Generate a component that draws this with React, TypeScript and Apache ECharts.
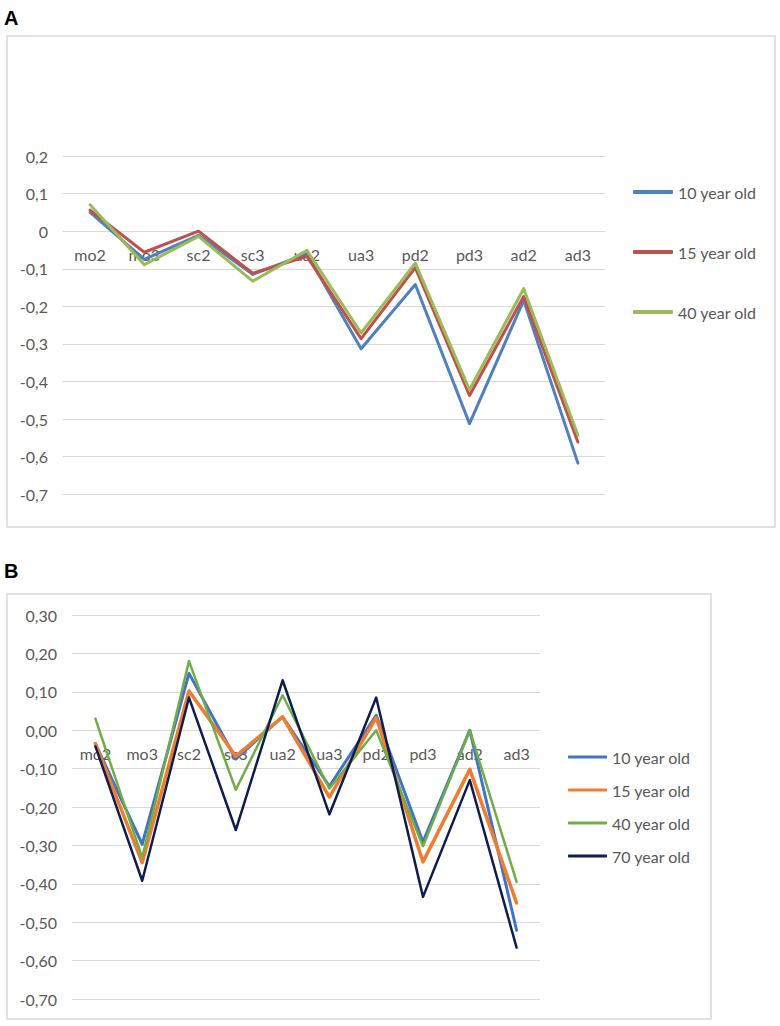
import React, { useEffect, useRef } from "react";
import * as echarts from "echarts";

const categories = ["mo2", "mo3", "sc2", "sc3", "ua2", "ua3", "pd2", "pd3", "ad2", "ad3"];

// Panel A
const seriesNamesA = ["10 year old", "15 year old", "40 year old"];
const a10 = [0.05, -0.075, -0.011, -0.115, -0.06, -0.313, -0.142, -0.512, -0.184, -0.617];
const a15 = [0.056, -0.056, 0.0, -0.112, -0.067, -0.286, -0.097, -0.437, -0.174, -0.561];
const a40 = [0.07, -0.089, -0.014, -0.133, -0.051, -0.271, -0.085, -0.422, -0.153, -0.543];

// Panel B
const seriesNamesB = ["10 year old", "15 year old", "40 year old", "70 year old"];
const b10 = [-0.035, -0.297, 0.148, -0.075, 0.035, -0.146, 0.039, -0.291, 0.0, -0.521];
const b15 = [-0.035, -0.345, 0.102, -0.068, 0.035, -0.174, 0.033, -0.343, -0.102, -0.45];
const b40 = [0.03, -0.332, 0.18, -0.155, 0.091, -0.152, 0.0, -0.302, 0.0, -0.395];
const b70 = [-0.042, -0.392, 0.085, -0.26, 0.13, -0.219, 0.085, -0.434, -0.13, -0.566];

const FONT = "Lato";
const TXT = "#595959";
const GRID = "#D9D9D9";

const fmtA = (v: number) => (Math.abs(v) < 1e-9 ? "0" : v.toFixed(1).replace(".", ","));
const fmtB = (v: number) => (Math.abs(v) < 1e-9 ? 0 : v).toFixed(2).replace(".", ",");

function makeLine(name: string, data: number[], color: string, width: number) {
  return {
    name,
    type: "line",
    data,
    symbol: "none",
    showSymbol: false,
    lineStyle: { color, width, cap: "round", join: "round" },
    itemStyle: { color },
    emphasis: { disabled: true },
  };
}

// category axis is placed on the zero line of the value axis (derived from grid height and range)
function baseAxes(min: number, max: number, gridHeight: number, fmt: (v: number) => string) {
  const zeroOffset = -(gridHeight * (0 - min)) / (max - min);
  return {
    xAxis: {
      type: "category",
      data: categories,
      boundaryGap: true,
      position: "bottom",
      offset: zeroOffset,
      axisLine: { show: true, onZero: false, lineStyle: { color: GRID, width: 1 } },
      axisTick: { show: false },
      axisLabel: { color: TXT, fontFamily: FONT, fontSize: 16, margin: 15, interval: 0 },
      splitLine: { show: false },
      z: 0,
    },
    yAxis: {
      type: "value",
      min,
      max,
      interval: 0.1,
      axisLine: { show: false },
      axisTick: { show: false },
      axisLabel: { color: TXT, fontFamily: FONT, fontSize: 16, margin: 15, formatter: fmt },
      splitLine: { show: true, lineStyle: { color: GRID, width: 1 } },
    },
  };
}

function ChartA() {
  const ref = useRef<HTMLDivElement>(null);
  useEffect(() => {
    const chart = echarts.init(ref.current!, undefined, { renderer: "svg" });
    const colors = ["#4F81BD", "#C0504D", "#9BBB59"];
    const H = 545;
    const top = 156;
    const bottom = H - 494.3;
    chart.setOption({
      animation: false,
      grid: { left: 63, right: 175, top, bottom },
      ...baseAxes(-0.7, 0.2, H - top - bottom, fmtA),
      legend: {
        orient: "vertical",
        left: 633,
        top: 182,
        padding: 0,
        icon: "roundRect",
        itemWidth: 40,
        itemHeight: 4,
        itemGap: 40,
        selectedMode: false,
        textStyle: { color: TXT, fontFamily: FONT, fontSize: 16, lineHeight: 20 },
        data: seriesNamesA,
      },
      series: [
        makeLine(seriesNamesA[0], a10, colors[0], 3),
        makeLine(seriesNamesA[1], a15, colors[1], 3),
        makeLine(seriesNamesA[2], a40, colors[2], 3),
      ],
      graphic: [
        {
          type: "rect",
          shape: { x: 7, y: 36, width: 768, height: 491 },
          style: { fill: "none", stroke: GRID, lineWidth: 1.5 },
          silent: true,
        },
        {
          type: "text",
          left: 4,
          top: 8,
          style: { text: "A", fill: "#000", font: "bold 20px 'Liberation Sans', Arial, sans-serif" },
        },
      ],
    });
    return () => chart.dispose();
  }, []);
  return <div ref={ref} style={{ position: "absolute", left: 0, top: 0, width: 780, height: 545 }} />;
}

function ChartB() {
  const ref = useRef<HTMLDivElement>(null);
  useEffect(() => {
    const chart = echarts.init(ref.current!, undefined, { renderer: "svg" });
    const colors = ["#4472C4", "#ED7D31", "#70AD47", "#0E1C4E"];
    const H = 481;
    const top = 70;
    const bottom = 27;
    chart.setOption({
      animation: false,
      grid: { left: 72, right: 240, top, bottom },
      ...baseAxes(-0.7, 0.3, H - top - bottom, fmtB),
      legend: {
        orient: "vertical",
        left: 568,
        top: 202,
        padding: 0,
        icon: "roundRect",
        itemWidth: 39,
        itemHeight: 3,
        itemGap: 13,
        selectedMode: false,
        textStyle: { color: TXT, fontFamily: FONT, fontSize: 16, lineHeight: 20 },
        data: seriesNamesB,
      },
      series: [
        makeLine(seriesNamesB[0], b10, colors[0], 3),
        makeLine(seriesNamesB[1], b15, colors[1], 3.5),
        makeLine(seriesNamesB[2], b40, colors[2], 2.5),
        makeLine(seriesNamesB[3], b70, colors[3], 2.5),
      ],
      graphic: [
        {
          type: "rect",
          shape: { x: 7, y: 49, width: 704, height: 425 },
          style: { fill: "none", stroke: GRID, lineWidth: 1.5 },
          silent: true,
        },
        {
          type: "text",
          left: 4,
          top: 16,
          style: { text: "B", fill: "#000", font: "bold 20px 'Liberation Sans', Arial, sans-serif" },
        },
      ],
    });
    return () => chart.dispose();
  }, []);
  return <div ref={ref} style={{ position: "absolute", left: 0, top: 545, width: 780, height: 481 }} />;
}

export default function App() {
  useEffect(() => {
    document.body.style.margin = "0";
  }, []);
  return (
    <div style={{ position: "absolute", left: 0, top: 0, width: 780, height: 1026, background: "#fff" }}>
      <ChartA />
      <ChartB />
    </div>
  );
}
